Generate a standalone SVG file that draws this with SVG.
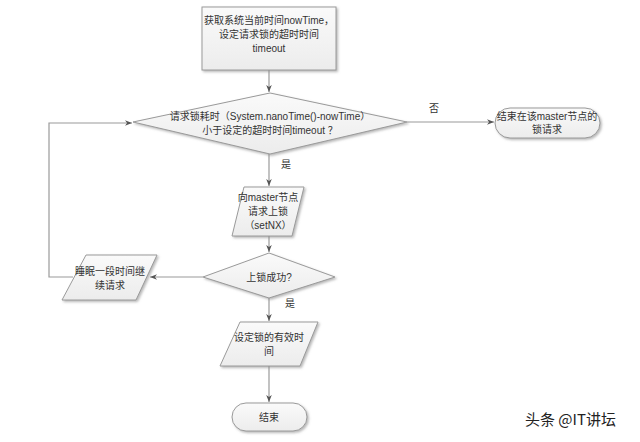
<svg xmlns="http://www.w3.org/2000/svg" width="640" height="442" viewBox="0 0 640 442">
<defs>
<linearGradient id="g" x1="0" y1="0" x2="0" y2="1">
<stop offset="0" stop-color="#fafafa"/><stop offset="1" stop-color="#ececec"/>
</linearGradient>
<marker id="a" viewBox="0 0 10 10" refX="10" refY="5" markerWidth="7" markerHeight="7" orient="auto" markerUnits="userSpaceOnUse">
<path d="M0,1 L10,5 L0,9 L3,5 z" fill="#555"/>
</marker>
<filter id="sh" x="-10%" y="-10%" width="130%" height="130%">
<feDropShadow dx="1.5" dy="1.5" stdDeviation="0.8" flood-color="#888" flood-opacity="0.6"/>
</filter>
</defs>
<style>
.s{fill:url(#g);stroke:#9a9a9a;stroke-width:1;filter:url(#sh)}
.t{font-family:"Liberation Sans","Noto Sans CJK SC",sans-serif;font-size:10px;fill:#333;text-anchor:middle}
.l{fill:none;stroke:#9a9a9a;stroke-width:1.2}
.w{font-family:"Noto Sans CJK SC","Liberation Sans",sans-serif;font-size:15px;fill:#222;stroke:#fff;stroke-width:2.5;paint-order:stroke}
</style>
<rect width="640" height="442" fill="#fff"/>
<g id="connectors">
<path class="l" d="M269,70 V92" marker-end="url(#a)"/>
<path class="l" d="M407,122 H494" marker-end="url(#a)"/>
<path class="l" d="M269,154 V186" marker-end="url(#a)"/>
<path class="l" d="M269,236 V252" marker-end="url(#a)"/>
<path class="l" d="M203,277 H150" marker-end="url(#a)"/>
<path class="l" d="M73,277 H49 V123 H132" marker-end="url(#a)"/>
<path class="l" d="M269,298 V321" marker-end="url(#a)"/>
<path class="l" d="M269,366 V402" marker-end="url(#a)"/>
<text class="t" x="434" y="112">否</text>
<text class="t" x="286" y="168">是</text>
<text class="t" x="290" y="307">是</text>
</g>
<g id="start">
<rect class="s" x="202" y="7" width="134" height="63"/>
<text class="t" x="269" y="24">获取系统当前时间nowTime，</text>
<text class="t" x="269" y="38">设定请求锁的超时时间</text>
<text class="t" x="269" y="52">timeout</text>
</g>
<g id="check-timeout">
<polygon class="s" points="270,93 407,122 270,154 133,122"/>
<text class="t" x="270" y="120">请求锁耗时（System.nanoTime()-nowTime）</text>
<text class="t" x="270" y="134">小于设定的超时时间timeout ？</text>
</g>
<g id="end-fail">
<rect class="s" x="495" y="108" width="105" height="30" rx="15"/>
<text class="t" x="547" y="120">结束在该master节点的</text>
<text class="t" x="547" y="133">锁请求</text>
</g>
<g id="setnx">
<polygon class="s" points="244,187 304,187 292,236 232,236"/>
<text class="t" x="268" y="201">向master节点</text>
<text class="t" x="268" y="215">请求上锁</text>
<text class="t" x="268" y="229">（setNX）</text>
</g>
<g id="check-lock">
<polygon class="s" points="269,253 335,277 269,298 203,277"/>
<text class="t" x="269" y="281">上锁成功?</text>
</g>
<g id="sleep">
<polygon class="s" points="86,255 157,255 136,300 62,300"/>
<text class="t" x="110" y="275">睡眠一段时间继</text>
<text class="t" x="110" y="289">续请求</text>
</g>
<g id="set-expire">
<polygon class="s" points="240,322 318,322 300,366 220,366"/>
<text class="t" x="269" y="341">设定锁的有效时</text>
<text class="t" x="269" y="355">间</text>
</g>
<g id="end">
<rect class="s" x="232" y="403" width="75" height="28" rx="14"/>
<text class="t" x="269" y="421">结束</text>
</g>
<text class="w" x="525" y="425">头条 @IT讲坛</text>
</svg>
